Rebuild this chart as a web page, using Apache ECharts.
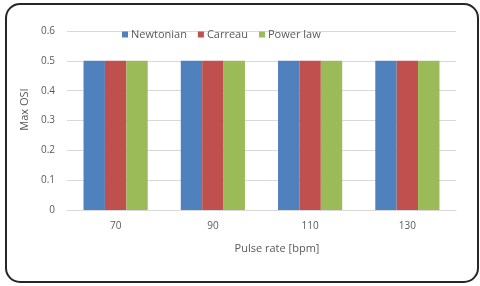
<!DOCTYPE html>
<html><head><meta charset="utf-8">
<script src="https://cdn.jsdelivr.net/npm/echarts@6/dist/echarts.min.js"></script>
<style>html,body{margin:0;padding:0;background:#fff}#c{width:480px;height:286px}</style>
</head><body><div id="c"></div>
<script>
const categories = ['70', '90', '110', '130'];
const newtonian = [0.5, 0.5, 0.5, 0.5];
const carreau = [0.5, 0.5, 0.5, 0.5];
const powerLaw = [0.5, 0.5, 0.5, 0.5];
const seriesNames = ['Newtonian', 'Carreau', 'Power law'];
const font = 'Open Sans';
const chart = echarts.init(document.getElementById('c'), null, {renderer: 'canvas'});
chart.setOption({
  animation: false,
  color: ['#4F81BD', '#C0504D', '#9BBB59'],
  graphic: [{
    type: 'rect', left: 5, top: 3, z: -1,
    shape: {width: 472, height: 278, r: 14},
    style: {fill: '#fff', stroke: '#262626', lineWidth: 2}
  }],
  legend: {
    top: 24, left: 117, itemWidth: 6, itemHeight: 6, itemGap: 11,
    icon: 'rect',
    textStyle: {fontFamily: font, fontSize: 11, color: '#595959', padding: [0,0,0,-2]},
    data: seriesNames
  },
  grid: {left: 67, right: 24, top: 31, bottom: 76},
  xAxis: {
    type: 'category', data: categories,
    name: 'Pulse rate [bpm]', nameLocation: 'middle', nameGap: 33,
    nameTextStyle: {fontFamily: font, fontSize: 11, color: '#595959', padding: [0,0,0,31]},
    axisLine: {lineStyle: {color: '#D9D9D9'}},
    axisTick: {show: false},
    axisLabel: {fontFamily: font, fontSize: 10, color: '#595959', margin: 11}
  },
  yAxis: {
    type: 'value', min: 0, max: 0.6, interval: 0.1,
    name: 'Max OSI', nameLocation: 'middle', nameGap: 26, nameRotate: 90,
    nameTextStyle: {fontFamily: font, fontSize: 11, color: '#595959', padding: [0,0,0,22]},
    axisLine: {show: false}, axisTick: {show: false},
    splitLine: {lineStyle: {color: '#D9D9D9'}},
    axisLabel: {fontFamily: font, fontSize: 10, color: '#595959', margin: 12,
      formatter: v => String(Math.round(v * 10) / 10)}
  },
  series: [
    {name: seriesNames[0], type: 'bar', data: newtonian, barGap: '0%', barCategoryGap: '34%'},
    {name: seriesNames[1], type: 'bar', data: carreau, barGap: '0%', barCategoryGap: '34%'},
    {name: seriesNames[2], type: 'bar', data: powerLaw, barGap: '0%', barCategoryGap: '34%'}
  ]
});
</script></body></html>
